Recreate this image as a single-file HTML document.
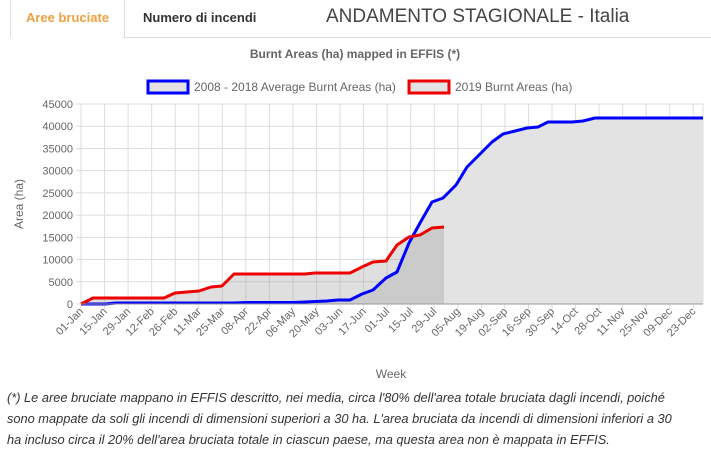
<!DOCTYPE html>
<html><head><meta charset="utf-8"><style>
body{margin:0;width:711px;height:449px;background:#fff;font-family:"Liberation Sans",Arial,sans-serif;overflow:hidden;position:relative}
.tab{position:absolute;top:0;left:10px;width:113px;height:37px;border:1px solid #ddd;border-bottom:none;border-top:none;background:#fff;color:#f0a040;font-weight:bold;font-size:13px;line-height:36px;text-align:center}
.t2{position:absolute;left:143px;top:0;line-height:36px;font-size:13px;font-weight:bold;color:#333}
.ttl{position:absolute;left:326px;top:6px;font-size:19px;color:#444}
.line{position:absolute;left:123px;top:37px;width:588px;border-top:1px solid #ddd}
.foot{position:absolute;left:7px;top:387px;width:697px;font-size:12.8px;font-style:italic;color:#333;line-height:21px}
</style></head><body>
<div class="tab">Aree bruciate</div><div class="t2">Numero di incendi</div>
<div class="ttl">ANDAMENTO STAGIONALE - Italia</div><div class="line"></div>
<svg width="711" height="449" style="position:absolute;left:0;top:0" font-family="Liberation Sans,Arial,sans-serif">
<text x="355" y="58" text-anchor="middle" font-size="12" font-weight="bold" fill="#666">Burnt Areas (ha) mapped in EFFIS (*)</text>
<rect x="148" y="81" width="40" height="12" fill="#e3e3e3" stroke="#00f" stroke-width="3"/>
<text x="194" y="91" font-size="12" fill="#666">2008 - 2018 Average Burnt Areas (ha)</text>
<rect x="409" y="81" width="40" height="12" fill="#e3e3e3" stroke="#e00" stroke-width="3"/>
<text x="455" y="91" font-size="12" fill="#666">2019 Burnt Areas (ha)</text>
<g stroke="#ddd" stroke-width="1" id="grid"></g>
<g font-size="11" fill="#666" text-anchor="end" id="yl"></g>
<polygon fill="#e3e3e3" points="81,304 93,304 105,304 116,303 128,303 140,303 152,303 164,303 175,303 187,303 199,303 211,303 222,303 234,303 246,302.5 258,302.5 269,302.5 281,302.5 293,302.5 305,302 315,301.5 327,301 338,300 350,300 362,294 373,290 386,278 397,272 409,243 420,223 432,202 443,198 456,185 467,167 479,155 492,142 503,134 515,131 527,128 538,127 548,122 560,122 572,122 583,121 595,118 606,118 703,118 703,304"/>
<polygon fill="rgba(150,150,150,0.3)" points="81,304 93,298 105,298 116,298 128,298 140,298 152,298 164,298 175,293 187,292 199,291 211,287 222,286 234,274 246,274 258,274 269,274 281,274 293,274 305,274 315,273 327,273 338,273 350,273 362,267 373,262 386,261 397,245 409,237 420,235 432,228 444,227 444,304"/>
<polyline fill="none" stroke="#00f" stroke-width="3" stroke-linejoin="round" points="81,304 93,304 105,304 116,303 128,303 140,303 152,303 164,303 175,303 187,303 199,303 211,303 222,303 234,303 246,302.5 258,302.5 269,302.5 281,302.5 293,302.5 305,302 315,301.5 327,301 338,300 350,300 362,294 373,290 386,278 397,272 409,243 420,223 432,202 443,198 456,185 467,167 479,155 492,142 503,134 515,131 527,128 538,127 548,122 560,122 572,122 583,121 595,118 606,118 703,118"/>
<polyline fill="none" stroke="#e00" stroke-width="3" stroke-linejoin="round" points="81,304 93,298 105,298 116,298 128,298 140,298 152,298 164,298 175,293 187,292 199,291 211,287 222,286 234,274 246,274 258,274 269,274 281,274 293,274 305,274 315,273 327,273 338,273 350,273 362,267 373,262 386,261 397,245 409,237 420,235 432,228 444,227"/>
<line x1="81" y1="304" x2="703" y2="304" stroke="#999"/>
<g font-size="11" fill="#666" text-anchor="end" id="xl"></g>
<text x="391" y="378" text-anchor="middle" font-size="12" fill="#666">Week</text>
<text transform="translate(23,204) rotate(-90)" text-anchor="middle" font-size="12" fill="#666">Area (ha)</text>
</svg>
<div class="foot">(*) Le aree bruciate mappano in EFFIS descritto, nei media, circa l'80% dell'area totale bruciata dagli incendi, poiché<br>sono mappate da soli gli incendi di dimensioni superiori a 30 ha. L'area bruciata da incendi di dimensioni inferiori a 30<br>ha incluso circa il 20% dell'area bruciata totale in ciascun paese, ma questa area non è mappata in EFFIS.</div>
<script>
var ns="http://www.w3.org/2000/svg",g=document.getElementById("grid"),yl=document.getElementById("yl"),xl=document.getElementById("xl");
function el(p,t,a,txt){var e=document.createElementNS(ns,t);for(var k in a)e.setAttribute(k,a[k]);if(txt)e.textContent=txt;p.appendChild(e);}
for(var i=0;i<=9;i++){var y=304-i*200/9;el(g,"line",{x1:76,x2:703,y1:y,y2:y});el(yl,"text",{x:73,y:y+4},String(i*5000));}
var L="01-Jan 15-Jan 29-Jan 12-Feb 26-Feb 11-Mar 25-Mar 08-Apr 22-Apr 06-May 20-May 03-Jun 17-Jun 01-Jul 15-Jul 29-Jul 05-Aug 19-Aug 02-Sep 16-Sep 30-Sep 14-Oct 28-Oct 11-Nov 25-Nov 09-Dec 23-Dec".split(" ");
for(var i=0;i<L.length;i++){var x=81+i*23.55;el(g,"line",{x1:x,x2:x,y1:104,y2:309});el(xl,"text",{transform:"translate("+(x+3)+",312) rotate(-45)"},L[i]);}
el(g,"line",{x1:703,x2:703,y1:104,y2:304});
</script>
</body></html>
